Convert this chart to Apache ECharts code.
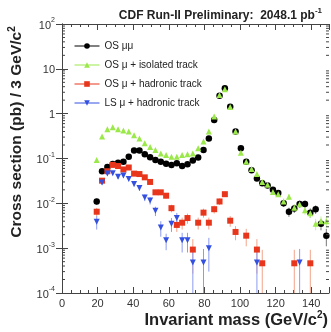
<!DOCTYPE html>
<html>
<head>
<meta charset="utf-8">
<script src="https://cdn.jsdelivr.net/npm/echarts@6/dist/echarts.min.js"></script>
<style>
  html, body { margin: 0; padding: 0; background: #fff; }
  #chart { width: 331px; height: 332px; }
</style>
</head>
<body>
<div id="chart"></div>
<script>
// bin centres, 3 GeV/c^2 wide
const bins = [19.5, 22.5, 25.5, 28.5, 31.5, 34.5, 37.5, 40.5, 43.5, 46.5, 49.5,
  52.5, 55.5, 58.5, 61.5, 64.5, 67.5, 70.5, 73.5, 76.5, 79.5, 82.5, 85.5, 88.5,
  91.5, 94.5, 97.5, 100.5, 103.5, 106.5, 109.5, 112.5, 115.5, 118.5, 121.5,
  124.5, 127.5, 130.5, 133.5, 136.5, 139.5, 142.5, 145.5, 148.5];

const osMuMu = [0.011, 0.052, 0.065, 0.075, 0.08, 0.085, 0.11, 0.15, 0.15, 0.125, 0.106,
  0.093, 0.085, 0.076, 0.072, 0.078, 0.068, 0.074, 0.09, 0.105, 0.155, 0.28, 0.72, 2.5,
  3.7, 1.43, 0.40, 0.17, 0.085, 0.055, 0.036, 0.028, 0.025, 0.020, 0.017,
  0.010, 0.0065, 0.0077, 0.0097, 0.0097, 0.0062, 0.0074, 0.0035, 0.0019];
const osMuMuErr = [0.0017, null, null, null, null, null, null, null, null, null, null,
  null, null, null, null, null, null, null, null, null, null, null, null, null,
  null, null, null, null, null, null, null, null, null, 0.002, 0.002,
  0.0017, 0.0015, 0.0016, 0.0018, 0.0018, 0.0015, 0.0016, 0.001, 0.0008];

const osIso = [0.093, 0.31, 0.45, 0.50, 0.45, 0.42, 0.40, 0.33, 0.28, 0.22, 0.18,
  0.155, 0.13, 0.12, 0.11, 0.11, 0.12, 0.125, 0.13, 0.17, 0.24, 0.40, 0.86, 2.6,
  3.5, 1.4, 0.40, 0.135, 0.085, 0.058, 0.045, 0.03, 0.026, 0.018, 0.016,
  0.011, 0.014, 0.008, 0.0095, 0.007, 0.006, 0.0035, 0.004, 0.004];
const osIsoErr = [0.006, null, null, null, null, null, null, null, null, null, null,
  null, null, null, null, null, null, null, null, null, null, null, null, null,
  null, null, null, null, null, null, null, null, null, 0.002, 0.002,
  0.0018, 0.002, 0.0015, 0.0016, 0.0014, 0.0013, 0.001, 0.0011, 0.0011];

const osHad = [0.0065, 0.032, 0.052, 0.072, 0.068, 0.057, 0.063, 0.046, 0.045, 0.038, 0.030,
  0.0176, 0.0176, 0.0148, 0.0078, 0.0033, 0.0037, 0.0047, 0.00093, 0.0037, 0.0062, 0.0037, 0.0074, 0.011,
  0.016, 0.0041, 0.0023, null, 0.0019, null, 0.00093, 0.00046, null, null, null,
  null, null, 0.00046, null, null, 0.00046, null, null, null];
const osHadErr = [0.0014, 0.003, 0.004, 0.0045, 0.0045, 0.004, 0.0042, 0.0036, 0.0036, 0.0033, 0.003,
  0.0023, 0.0023, 0.0021, 0.0015, 0.001, 0.0011, 0.0012, 0.00066, 0.0011, 0.0014, 0.0011, 0.0015, 0.0018,
  0.0022, 0.0011, 0.0008, null, 0.0008, null, 0.00066, 0.00046, null, null, null,
  null, null, 0.00046, null, null, 0.00046, null, null, null];

const lsHad = [0.0039, 0.029, 0.046, 0.047, 0.039, 0.042, 0.035, 0.027, 0.022, 0.0135, 0.0115,
  0.0068, 0.0029, 0.0015, 0.0035, 0.0047, 0.0015, 0.0015, 0.00048, null, 0.00048, 0.001, null, null,
  null, null, null, null, null, null, 0.00048, null, null, null, null,
  null, null, null, 0.00048, null, null, null, null, null];
const lsHadErr = [0.0013, 0.0034, 0.0043, 0.0043, 0.004, 0.004, 0.0037, 0.0033, 0.003, 0.0023, 0.0021,
  0.0016, 0.0011, 0.0006, 0.0012, 0.0014, 0.0007, 0.0007, 0.00048, null, 0.00048, 0.0007, null, null,
  null, null, null, null, null, null, 0.00048, null, null, null, null,
  null, null, null, 0.00048, null, null, null, null, null];

const seriesNames = ['OS \u03bc\u03bc', 'OS \u03bc + isolated track', 'OS \u03bc + hadronic track', 'LS \u03bc + hadronic track'];
const xMin = 0, xMax = 150;
const yMin = 1e-4, yMax = 100;
const yMinorSteps = [2, 3, 4, 5, 6, 7, 8, 9];

const FONT = 'Liberation Sans, Arial, sans-serif';

const toPoints = (vals) => bins.map((x, i) => [x, vals[i]]).filter(p => p[1] != null);
const toBars = (vals, errs) => bins
  .map((x, i) => (vals[i] != null && errs[i] != null) ? [x, vals[i] - errs[i], vals[i] + errs[i]] : null)
  .filter(p => p);

const errorBar = (params, api) => {
  const lo = Math.max(api.value(1), yMin);
  const hi = Math.min(api.value(2), yMax);
  const a = api.coord([api.value(0), hi]);
  const b = api.coord([api.value(0), lo]);
  return {
    type: 'line',
    shape: { x1: a[0], y1: a[1], x2: b[0], y2: b[1] },
    style: { stroke: api.visual('color'), lineWidth: 1 },
  };
};

const minorTickValues = [];
for (let e = -4; e < 2; e++) {
  yMinorSteps.forEach(m => minorTickValues.push([xMin, m * Math.pow(10, e)]));
}
const minorTick = (params, api) => {
  const l = api.coord([xMin, api.value(1)]);
  const r = api.coord([xMax, api.value(1)]);
  return {
    type: 'group',
    children: [
      { type: 'line', shape: { x1: l[0], y1: l[1], x2: l[0] + 3, y2: l[1] }, style: { stroke: '#444', lineWidth: 1 } },
      { type: 'line', shape: { x1: r[0], y1: r[1], x2: r[0] - 3, y2: r[1] }, style: { stroke: '#444', lineWidth: 1 } },
    ],
  };
};

const colors = ['#000000', '#9be84a', '#e8361c', '#3350e0'];
const barColors = ['#777777', '#c4f29a', '#f2a48a', '#8c9bf0'];
const symbols = ['circle', 'triangle', 'rect', 'triangle'];
const sizes = [6.5, 6, 6, 6];
const rotations = [0, 0, 0, 180];
const values = [osMuMu, osIso, osHad, lsHad];
const errors = [osMuMuErr, osIsoErr, osHadErr, lsHadErr];

const series = [];
values.forEach((vals, i) => {
  series.push({
    type: 'custom',
    renderItem: errorBar,
    data: toBars(vals, errors[i]),
    itemStyle: { color: barColors[i] },
    silent: true,
    z: 1,
  });
});
values.forEach((vals, i) => {
  series.push({
    name: seriesNames[i],
    type: 'line',
    data: toPoints(vals),
    symbol: symbols[i],
    symbolSize: sizes[i],
    symbolRotate: rotations[i],
    showAllSymbol: true,
    color: colors[i],
    itemStyle: { color: colors[i] },
    lineStyle: { opacity: 0, width: 1, color: colors[i] },
    silent: true,
    animation: false,
    z: 3 + i,
  });
});
series.push({
  type: 'custom',
  renderItem: minorTick,
  data: minorTickValues,
  silent: true,
  z: 10,
});

const chart = echarts.init(document.getElementById('chart'), null, { renderer: 'canvas' });
chart.setOption({
  animation: false,
  backgroundColor: '#fff',
  textStyle: { fontFamily: FONT },
  title: {
    text: '{t|CDF Run-II Preliminary:  2048.1 pb}{s|-1}',
    right: 4,
    top: 2,
    textStyle: {
      rich: {
        t: { fontFamily: FONT, fontSize: 12, fontWeight: 'bold', color: '#222', lineHeight: 15, verticalAlign: 'bottom' },
        s: { fontFamily: FONT, fontSize: 8, fontWeight: 'bold', color: '#222', lineHeight: 9, verticalAlign: 'top' },
      },
    },
  },
  legend: {
    orient: 'vertical',
    left: 69,
    top: 36,
    itemWidth: 25,
    itemHeight: 7,
    itemGap: 9,
    textStyle: { fontFamily: FONT, fontSize: 10, color: '#222' },
    data: seriesNames.map((n, i) => ({ name: n, lineStyle: { opacity: 1, width: 1, color: colors[i] } })),
  },
  grid: { left: 62, right: 2, top: 24, bottom: 39 },
  xAxis: [
    {
      type: 'value', min: xMin, max: xMax, interval: 20,
      axisLine: { lineStyle: { color: '#444' } },
      axisTick: { inside: true, length: 6, lineStyle: { color: '#444' } },
      minorTick: { show: true, splitNumber: 4, length: 3, lineStyle: { color: '#444' } },
      splitLine: { show: false },
      axisLabel: { fontFamily: FONT, fontSize: 11, color: '#333', margin: 5, showMaxLabel: false },
    },
    {
      type: 'value', min: xMin, max: xMax, interval: 20, position: 'top',
      axisLine: { lineStyle: { color: '#444' } },
      axisTick: { inside: true, length: 6, lineStyle: { color: '#444' } },
      minorTick: { show: true, splitNumber: 4, length: 3, lineStyle: { color: '#444' } },
      splitLine: { show: false },
      axisLabel: { show: false },
    },
  ],
  yAxis: [
    {
      type: 'log', logBase: 10, min: yMin, max: yMax, splitNumber: 6,
      axisLine: { show: true, lineStyle: { color: '#444' } },
      axisTick: { show: true, inside: true, length: 6, lineStyle: { color: '#444' } },
      splitLine: { show: false },
      axisLabel: {
        margin: 7,
        formatter: (v) => {
          const e = Math.round(Math.log10(v));
          if (e === 0) return '{b|1}';
          if (e === 1) return '{b|10}';
          return '{b|10}{s|' + e + '}';
        },
        rich: {
          b: { fontFamily: FONT, fontSize: 11, color: '#333', lineHeight: 14, verticalAlign: 'bottom' },
          s: { fontFamily: FONT, fontSize: 7, color: '#333', lineHeight: 8, verticalAlign: 'top' },
        },
      },
    },
    {
      type: 'log', logBase: 10, min: yMin, max: yMax, splitNumber: 6, position: 'right',
      axisLine: { show: true, lineStyle: { color: '#444' } },
      axisTick: { show: true, inside: true, length: 6, lineStyle: { color: '#444' } },
      splitLine: { show: false },
      axisLabel: { show: false },
    },
  ],
  graphic: [
    {
      type: 'text',
      x: 16, y: 132,
      rotation: Math.PI / 2,
      style: {
        text: '{a|Cross section (pb) / 3 GeV/c}{s|2}',
        align: 'center', verticalAlign: 'middle',
        rich: {
          a: { fontFamily: FONT, fontSize: 15.5, fontWeight: 'bold', fill: '#222', lineHeight: 18, verticalAlign: 'bottom' },
          s: { fontFamily: FONT, fontSize: 10, fontWeight: 'bold', fill: '#222', lineHeight: 11, verticalAlign: 'top' },
        },
      },
    },
    {
      type: 'text',
      right: 3, top: 310,
      style: {
        text: '{a|Invariant mass (GeV/c}{s|2}{a|)}',
        rich: {
          a: { fontFamily: FONT, fontSize: 16.5, fontWeight: 'bold', fill: '#222', lineHeight: 19, verticalAlign: 'bottom' },
          s: { fontFamily: FONT, fontSize: 10, fontWeight: 'bold', fill: '#222', lineHeight: 11, verticalAlign: 'top' },
        },
      },
    },
  ],
  series: series,
});
</script>
</body>
</html>
